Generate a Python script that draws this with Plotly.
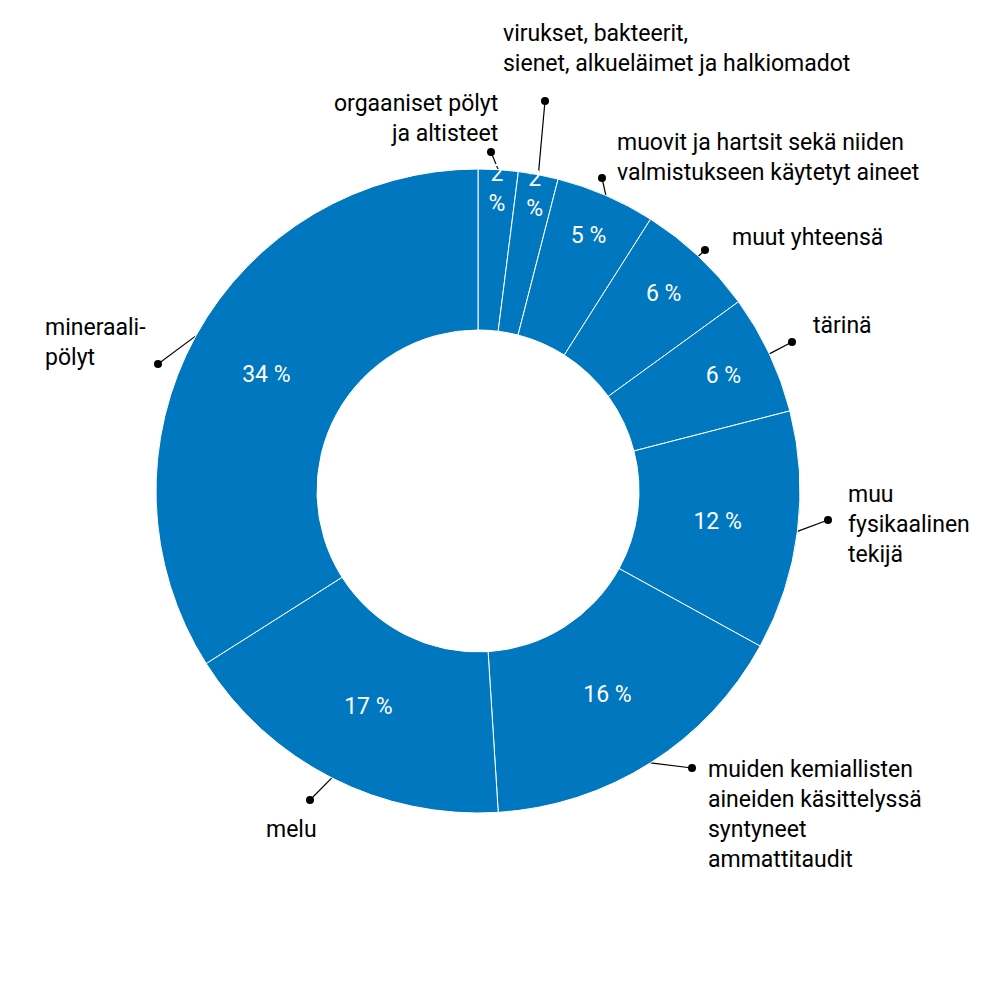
import math
import plotly.graph_objects as go

labels = ["orgaaniset pölyt<br>ja altisteet", "virukset, bakteerit,<br>sienet, alkueläimet ja halkiomadot",
          "muovit ja hartsit sekä niiden<br>valmistukseen käytetyt aineet", "muut yhteensä", "tärinä",
          "muu<br>fysikaalinen<br>tekijä", "muiden kemiallisten<br>aineiden käsittelyssä<br>syntyneet<br>ammattitaudit",
          "melu", "mineraali-<br>pölyt"]
values = [2, 2, 5, 6, 6, 12, 16, 17, 34]
inside = ["2<br>%", "2<br>%", "5 %", "6 %", "6 %", "12 %", "16 %", "17 %", "34 %"]

# layout (pixels)
W = 1001
cx, cy, R = 470, 483, 322
dots = [(483, 144), (537, 93), (594, 170), (697, 242), (784, 334), (820, 512), (684, 760), (302, 792), (150, 356)]
text_pos = [(492, 110, "right", "middle"), (493, 40, "left", "middle"), (607, 149, "left", "middle"),
            (722, 229, "left", "middle"), (803, 317, "left", "middle"), (838, 516, "left", "middle"),
            (698, 806, "left", "middle"), (283, 821, "center", "middle"), (35, 334, "left", "middle")]

fig = go.Figure()
fig.add_trace(go.Pie(values=values, text=inside, textinfo="text", sort=False, direction="clockwise",
                     rotation=0, hole=0.5, marker=dict(colors=["#0077be"] * len(values), line=dict(color="white", width=1)),
                     textposition="inside", insidetextorientation="horizontal",
                     textfont=dict(color="white", size=23, family="Roboto"),
                     domain=dict(x=[(cx - R) / W, (cx + R) / W], y=[(W - cy - R) / W, (W - cy + R) / W]),
                     showlegend=False, hoverinfo="skip"))

total = sum(values)
cum = 0
lx, ly = [], []
for v, (dx, dy) in zip(values, dots):
    a = 2 * math.pi * (cum + v / 2) / total
    cum += v
    lx += [cx + R * math.sin(a), dx, None]
    ly += [cy - R * math.cos(a), dy, None]
fig.add_trace(go.Scatter(x=lx, y=ly, mode="lines", line=dict(color="black", width=1.2), showlegend=False, hoverinfo="skip"))
fig.add_trace(go.Scatter(x=[d[0] for d in dots], y=[d[1] for d in dots], mode="markers",
                         marker=dict(color="black", size=8), showlegend=False, hoverinfo="skip"))

for lab, (tx, ty, xa, ya) in zip(labels, text_pos):
    fig.add_annotation(x=tx, y=ty, text=lab, showarrow=False, xanchor=xa, yanchor=ya, align=xa if xa != "center" else "center",
                       font=dict(size=23, family="Roboto", color="black"))

fig.update_xaxes(range=[0, W], visible=False, domain=[0, 1])
fig.update_yaxes(range=[W, 0], visible=False, domain=[0, 1])
fig.update_layout(width=W, height=W, margin=dict(l=0, r=0, t=0, b=0), paper_bgcolor="white", plot_bgcolor="rgba(0,0,0,0)",
                  uniformtext=dict(minsize=23, mode="show"))
fig.write_html("out.html")
